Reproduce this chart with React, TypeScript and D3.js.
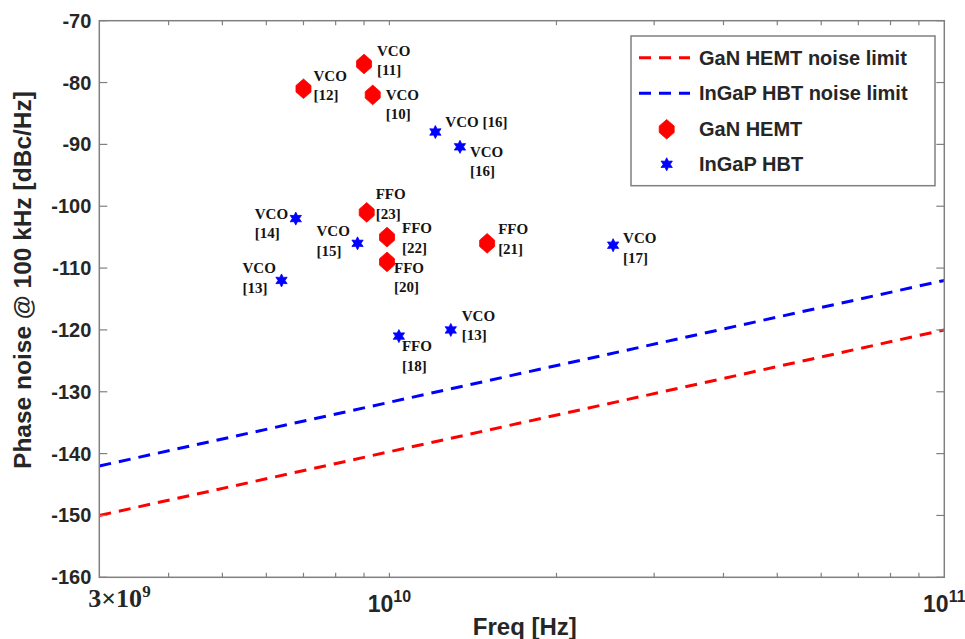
import React from "react";
import * as d3 from "d3";

// ---- data ----
const ganFreq = [7.0e9, 9.0e9, 9.33e9, 9.1e9, 9.9e9, 9.9e9, 1.5e10];
const ganNoise = [-81, -77, -82, -101, -105, -109, -106];
const ganType = ["VCO", "VCO", "VCO", "FFO", "FFO", "FFO", "FFO"];
const ganRef = ["[12]", "[11]", "[10]", "[23]", "[22]", "[20]", "[21]"];

const hbtFreq = [1.21e10, 1.34e10, 6.78e9, 8.76e9, 6.39e9, 1.04e10, 1.29e10, 2.53e10];
const hbtNoise = [-88, -90.4, -102, -106, -112, -121, -120, -106.3];
const hbtType = ["VCO", "VCO", "VCO", "VCO", "VCO", "FFO", "VCO", "VCO"];
const hbtRef = ["[16]", "[16]", "[14]", "[15]", "[13]", "[18]", "[13]", "[17]"];

const limitFreq = [3e9, 1e11];
const ganLimit = [-150, -120];
const hbtLimit = [-142, -112];

const yTicks = [-160, -150, -140, -130, -120, -110, -100, -90, -80, -70];
const xMinorTicks = [4e9, 5e9, 6e9, 7e9, 8e9, 9e9, 1e10, 2e10, 3e10, 4e10, 5e10, 6e10, 7e10, 8e10, 9e10];

const legendLabels = ["GaN HEMT noise limit", "InGaP HBT noise limit", "GaN HEMT", "InGaP HBT"];

// ---- layout (label placement) ----
const ganLabelOffset = [[10, -8], [13, -8], [13, 5], [9, -13], [15, -4], [7, 11], [11, -9]];
const hbtLabelOffset = [[10, -5], [10, 10], [-41, 0], [-41, -7], [-39, -7], [3, 15], [11, -9], [10, -2]];
const hbtInline = [true, false, false, false, false, false, false, false];

const W = 965, H = 639;
const L = 99.3, R = 944.3, T = 20.7, B = 577.3;
const AXIS = "#808080";
const TXT = "#262626";
const SANS = "'Liberation Sans', Arial, Helvetica, sans-serif";
const SERIF = "'Liberation Serif', 'Times New Roman', serif";

const x = d3.scaleLog().domain([3e9, 1e11]).range([L, R]);
const y = d3.scaleLinear().domain([-160, -70]).range([B, T]);

function hexPath(cx: number, cy: number) {
  const w = 7.5, h = 9.8, s = 3.2;
  return `M${cx},${cy - h}L${cx + w},${cy - s}L${cx + w},${cy + s}L${cx},${cy + h}L${cx - w},${cy + s}L${cx - w},${cy - s}Z`;
}
function starPath(cx: number, cy: number) {
  const ro = 6.5, ri = 3.5;
  const pts: string[] = [];
  for (let i = 0; i < 12; i++) {
    const a = -Math.PI / 2 + (i * Math.PI) / 6;
    const r = i % 2 === 0 ? ro : ri;
    pts.push(`${cx + r * Math.cos(a)},${cy + r * Math.sin(a)}`);
  }
  return "M" + pts.join("L") + "Z";
}

const line = d3.line<number>().x((_, i) => x(limitFreq[i])).y((d) => y(d));

function Label({ px, py, off, type, refTxt, inline }: any) {
  const lx = px + off[0];
  const ly = py + off[1];
  if (inline) {
    return <text x={lx} y={ly} fontFamily={SERIF} fontWeight={700} fontSize={15} fill="#141414">{`${type} ${refTxt}`}</text>;
  }
  return (
    <text x={lx} y={ly} fontFamily={SERIF} fontWeight={700} fontSize={15} fill="#141414">
      <tspan x={lx}>{type}</tspan>
      <tspan x={lx} dy={19.5}>{refTxt}</tspan>
    </text>
  );
}

export default function App() {
  return (
    <svg width={W} height={H} style={{ position: "absolute", left: 0, top: 0, background: "#fff" }}>
      <rect x={0} y={0} width={W} height={H} fill="#fff" />
      {/* limit lines */}
      <path d={line(ganLimit) || ""} fill="none" stroke="#ff0000" strokeWidth={3} strokeDasharray="12,8" />
      <path d={line(hbtLimit) || ""} fill="none" stroke="#0000ff" strokeWidth={3} strokeDasharray="12,8" />

      {/* axes box */}
      <rect x={L} y={T} width={R - L} height={B - T} fill="none" stroke={AXIS} strokeWidth={1.5} />
      {yTicks.map((t) => (
        <g key={"y" + t}>
          <line x1={L} x2={L + 8} y1={y(t)} y2={y(t)} stroke={AXIS} strokeWidth={1.2} />
          <line x1={R} x2={R - 8} y1={y(t)} y2={y(t)} stroke={AXIS} strokeWidth={1.2} />
          <text x={L - 8} y={y(t)} textAnchor="end" dominantBaseline="central"
            fontFamily={SANS} fontWeight={700} fontSize={20} fill={TXT}>{t}</text>
        </g>
      ))}
      {xMinorTicks.map((t) => (
        <g key={"x" + t}>
          <line x1={x(t)} x2={x(t)} y1={B} y2={B - 4.5} stroke={AXIS} strokeWidth={1.2} />
          <line x1={x(t)} x2={x(t)} y1={T} y2={T + 4.5} stroke={AXIS} strokeWidth={1.2} />
        </g>
      ))}
      {/* x tick labels */}
      <text x={x(3e9) - 11} y={607} fontFamily={SERIF} fontWeight={700} fontSize={26} fill={TXT}>
        <tspan>3×10</tspan>
        <tspan dy={-10} fontSize={17}>9</tspan>
      </text>
      <text x={x(1e10)} y={611.5} textAnchor="middle" fontFamily={SANS} fontWeight={700} fontSize={23} fill={TXT}>
        <tspan>10</tspan>
        <tspan dy={-10} fontSize={16}>10</tspan>
      </text>
      <text x={x(1e11)} y={611.5} textAnchor="middle" fontFamily={SANS} fontWeight={700} fontSize={23} fill={TXT}>
        <tspan>10</tspan>
        <tspan dy={-10} fontSize={16}>11</tspan>
      </text>

      {/* axis titles */}
      <text x={(L + R) / 2 + 3} y={635} textAnchor="middle"
        fontFamily={SANS} fontWeight={700} fontSize={24} fill={TXT}>Freq [Hz]</text>
      <text transform={`translate(31,280) rotate(-90)`} textAnchor="middle"
        fontFamily={SANS} fontWeight={700} fontSize={24.5} fill={TXT}>Phase noise @ 100 kHz [dBc/Hz]</text>

      {/* GaN points */}
      {ganFreq.map((f, i) => (
        <g key={"g" + i}>
          <path d={hexPath(x(f), y(ganNoise[i]))} fill="#ff0000" stroke="#ff0000" strokeWidth={0.8} strokeLinejoin="round" />
          <Label px={x(f)} py={y(ganNoise[i])} off={ganLabelOffset[i]} type={ganType[i]} refTxt={ganRef[i]} inline={false} />
        </g>
      ))}
      {/* HBT points */}
      {hbtFreq.map((f, i) => (
        <g key={"h" + i}>
          <path d={starPath(x(f), y(hbtNoise[i]))} fill="#0000ff" stroke="#0000ff" strokeWidth={0.8} />
          <Label px={x(f)} py={y(hbtNoise[i])} off={hbtLabelOffset[i]} type={hbtType[i]} refTxt={hbtRef[i]} inline={hbtInline[i]} />
        </g>
      ))}

      {/* legend */}
      <g>
        <rect x={631} y={36} width={304} height={149.7} fill="#fff" stroke={AXIS} strokeWidth={1.5} />
        <line x1={639} x2={690} y1={57.7} y2={57.7} stroke="#ff0000" strokeWidth={3} strokeDasharray="12,8" />
        <line x1={639} x2={690} y1={93.3} y2={93.3} stroke="#0000ff" strokeWidth={3} strokeDasharray="12,8" />
        <path d={hexPath(666.7, 129.3)} fill="#ff0000" stroke="#ff0000" strokeWidth={0.8} />
        <path d={starPath(666.7, 164.3)} fill="#0000ff" stroke="#0000ff" strokeWidth={0.8} />
        {legendLabels.map((s, i) => (
          <text key={s} x={699} y={[57.7, 93.3, 129.3, 164.3][i]} dominantBaseline="central"
            fontFamily={SANS} fontWeight={700} fontSize={20} fill={TXT}>{s}</text>
        ))}
      </g>
    </svg>
  );
}
